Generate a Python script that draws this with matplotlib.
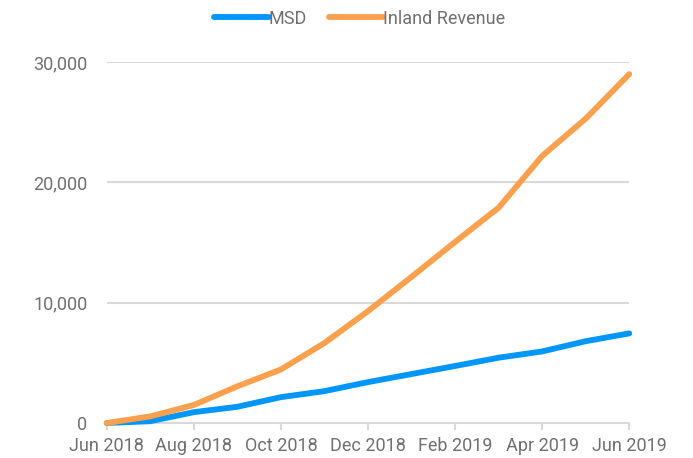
"""
MSD vs Inland Revenue cumulative counts, Jun 2018 - Jun 2019
"""

import numpy as np
import matplotlib.pyplot as plt
from matplotlib.ticker import FuncFormatter

months = ['Jun 2018', 'Jul 2018', 'Aug 2018', 'Sep 2018', 'Oct 2018', 'Nov 2018',
          'Dec 2018', 'Jan 2019', 'Feb 2019', 'Mar 2019', 'Apr 2019', 'May 2019',
          'Jun 2019']
msd = [0, 150, 900, 1350, 2150, 2650, 3400, 4070, 4740, 5430, 5950, 6800, 7450]
inland_revenue = [0, 550, 1500, 3050, 4450, 6650, 9300, 12150, 15050, 17900,
                  22200, 25300, 29000]

blue = '#0096fa'
orange = '#fba04c'
grey_text = '#707070'
grid_col = '#d9d9d9'

plt.rcParams['font.family'] = ['Roboto', 'DejaVu Sans']

figure = plt.figure(figsize=(6.93, 4.58), dpi=100)
ax = figure.add_axes([0.154, 0.0764, 0.754, 0.788])

x = np.arange(len(months))
ax.plot(x, msd, color=blue, linewidth=4.2, solid_capstyle='round',
        solid_joinstyle='round', label='MSD', clip_on=False, zorder=3)
ax.plot(x, inland_revenue, color=orange, linewidth=4.2, solid_capstyle='round',
        solid_joinstyle='round', label='Inland Revenue', clip_on=False, zorder=3)

ax.set_xlim(0, len(months) - 1)
ax.set_ylim(0, 30000)
ax.set_yticks([0, 10000, 20000, 30000])
ax.yaxis.set_major_formatter(FuncFormatter(lambda v, pos: '{:,.0f}'.format(v)))
ax.set_xticks(x[::2])
ax.set_xticklabels(months[::2])

for sp in ['top', 'right', 'left']:
    ax.spines[sp].set_visible(False)
ax.spines['bottom'].set_color(grid_col)
ax.spines['bottom'].set_linewidth(1.5)

ax.grid(axis='y', color=grid_col, linewidth=1.5)
ax.set_axisbelow(True)
ax.tick_params(axis='y', length=0, pad=14, labelsize=13, labelcolor=grey_text)
ax.tick_params(axis='x', length=5, width=1.5, color=grid_col, pad=5,
               labelsize=13, labelcolor=grey_text)

leg = ax.legend(loc='upper center', bbox_to_anchor=(0.484, 1.19), ncol=2,
                frameon=False, handlelength=3.0, handletextpad=0.0,
                columnspacing=1.2, fontsize=13)
for t in leg.get_texts():
    t.set_color(grey_text)

figure.savefig('out.png', dpi=100)
